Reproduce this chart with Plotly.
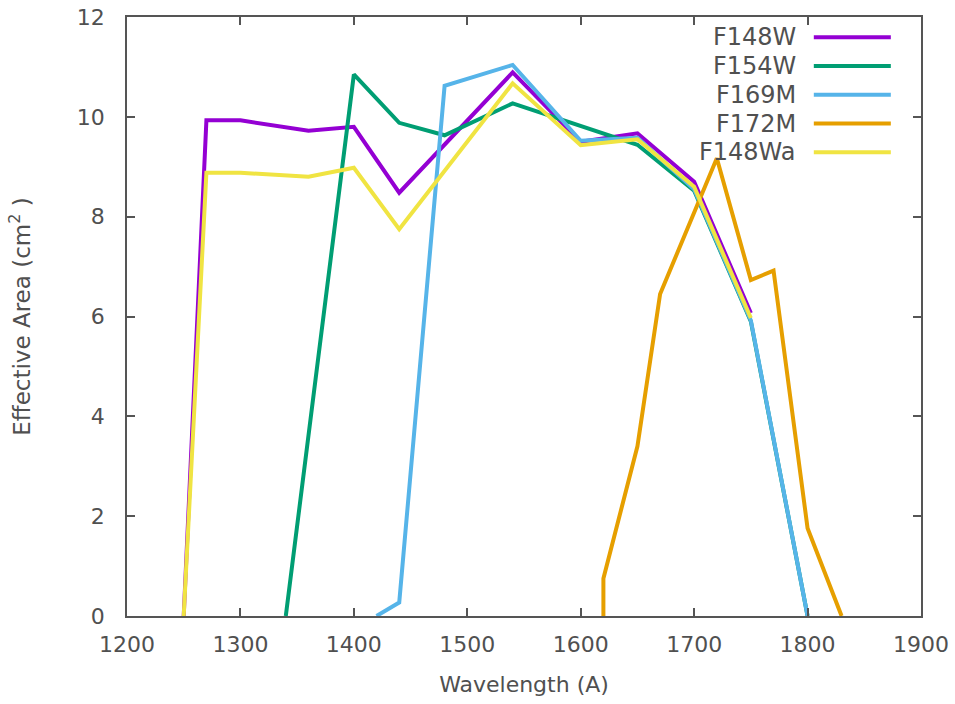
import plotly.graph_objects as go

# ---- data ----
names = ["F148W", "F154W", "F169M", "F172M", "F148Wa"]
colors = ["#9400d3", "#009e73", "#56b4e9", "#e69f00", "#f0e442"]

f148w_x = [1250, 1270, 1300, 1360, 1400, 1440, 1540, 1600, 1650, 1700, 1750]
f148w_y = [0, 9.93, 9.93, 9.72, 9.80, 8.48, 10.89, 9.50, 9.67, 8.70, 6.07]

f154w_x = [1340, 1400, 1440, 1480, 1540, 1600, 1650, 1700, 1750, 1800]
f154w_y = [0, 10.85, 9.88, 9.63, 10.27, 9.82, 9.44, 8.52, 5.90, 0]

f169m_x = [1420, 1440, 1480, 1540, 1600, 1650, 1700, 1750, 1800]
f169m_y = [0, 0.27, 10.62, 11.04, 9.52, 9.58, 8.55, 5.92, 0]

f172m_x = [1620, 1620, 1650, 1670, 1720, 1750, 1770, 1800, 1830]
f172m_y = [0, 0.75, 3.40, 6.45, 9.17, 6.73, 6.92, 1.76, 0]

f148wa_x = [1250, 1270, 1300, 1360, 1400, 1440, 1540, 1600, 1650, 1700, 1750]
f148wa_y = [0, 8.88, 8.88, 8.80, 8.98, 7.75, 10.67, 9.43, 9.55, 8.60, 5.97]

x_ticks = [1200, 1300, 1400, 1500, 1600, 1700, 1800, 1900]
y_ticks = [0, 2, 4, 6, 8, 10, 12]

series = [(f148w_x, f148w_y), (f154w_x, f154w_y), (f169m_x, f169m_y),
          (f172m_x, f172m_y), (f148wa_x, f148wa_y)]

FONT = "DejaVu Sans"
TXT = "#505050"
AX = "#555555"

fig = go.Figure()
for (xs, ys), n, c in zip(series, names, colors):
    fig.add_trace(go.Scatter(x=xs, y=ys, mode="lines", name=n,
                             line=dict(color=c, width=4)))

# manual legend (text on left, sample line on right)
leg_y = [0.966, 0.918, 0.870, 0.822, 0.774]
for n, c, yy in zip(names, colors, leg_y):
    fig.add_annotation(x=0.845, y=yy, xref="paper", yref="paper",
                       text=n, showarrow=False, xanchor="right", yanchor="middle",
                       font=dict(family=FONT, size=24, color=TXT))
    fig.add_shape(type="line", xref="paper", yref="paper",
                  x0=0.865, x1=0.962, y0=yy, y1=yy,
                  line=dict(color=c, width=4))

fig.update_layout(
    width=955, height=704,
    margin=dict(l=127, r=34, t=17, b=88, autoexpand=False),
    paper_bgcolor="white", plot_bgcolor="white",
    showlegend=False,
    font=dict(family=FONT, size=22, color=TXT),
)
fig.update_xaxes(range=[1200, 1900], tickvals=x_ticks, ticktext=[str(v) for v in x_ticks],
                 showgrid=False, zeroline=False, showline=True, linecolor=AX, linewidth=1.5,
                 mirror="ticks", ticks="inside", ticklen=8, tickcolor=AX, tickwidth=1.5,
                 ticklabelstandoff=8, automargin=False,
                 title=dict(text="Wavelength (A)", font=dict(family=FONT, size=22, color=TXT),
                            standoff=20))
fig.update_yaxes(range=[0, 12], tickvals=y_ticks, ticktext=[str(v) for v in y_ticks],
                 showgrid=False, zeroline=False, showline=True, linecolor=AX, linewidth=1.5,
                 mirror="ticks", ticks="inside", ticklen=8, tickcolor=AX, tickwidth=1.5,
                 ticklabelstandoff=16, automargin=False,
                 title=dict(text="Effective Area (cm<sup>2</sup> )",
                            font=dict(family=FONT, size=23, color=TXT), standoff=40))

fig.write_html("out.html")
